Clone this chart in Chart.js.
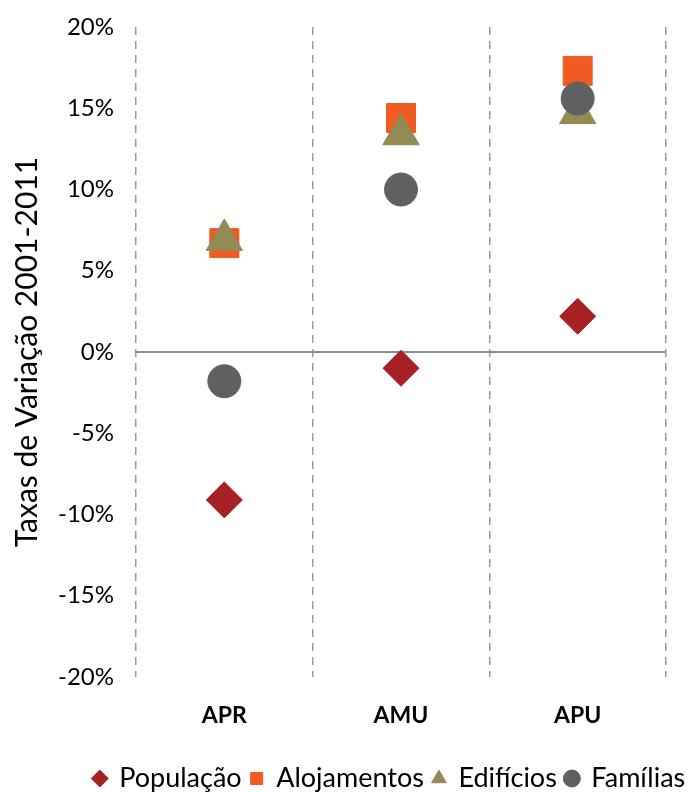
<!DOCTYPE html>
<html>
<head>
<meta charset="utf-8">
<script src="https://cdn.jsdelivr.net/npm/chart.js@4"></script>
<style>
  html, body { margin: 0; padding: 0; background: #fff; }
  #wrap { width: 688px; height: 792px; }
</style>
</head>
<body>
<div id="wrap"><canvas id="chart" width="688" height="792"></canvas></div>
<script>
// categories and series (taxas de variação 2001-2011, %)
const areas = ['APR', 'AMU', 'APU'];
const populacao = [-9.1, -1.0, 2.2];
const alojamentos = [6.7, 14.4, 17.3];
const edificios = [6.9, 13.4, 14.7];
const familias = [-1.8, 10.0, 15.6];

const font = 'Lato, "Open Sans", sans-serif';

// the legend in the original sits a bit right of centre
const legendShift = {
    id: 'legendShift',
    afterLayout(chart) {
        const lg = chart.legend;
        if (lg) { lg.left += 54; lg.right += 54; }
    },
};

const ctx = document.getElementById('chart').getContext('2d');
new Chart(ctx, {
    type: 'line',
    data: {
        labels: areas,
        datasets: [
            {
                label: 'População',
                data: populacao,
                pointStyle: 'rectRot',
                pointRadius: 18,
                backgroundColor: '#A62024',
                borderColor: '#A62024',
                order: 3,
            },
            {
                label: 'Alojamentos',
                data: alojamentos,
                pointStyle: 'rect',
                pointRadius: 20.5,
                backgroundColor: '#F15A22',
                borderColor: '#F15A22',
                order: 2,
            },
            {
                label: 'Edifícios',
                data: edificios,
                pointStyle: 'triangle',
                pointRadius: 21,
                backgroundColor: '#948A54',
                borderColor: '#948A54',
                order: 1,
            },
            {
                label: 'Famílias',
                data: familias,
                pointStyle: 'circle',
                pointRadius: 16.5,
                backgroundColor: '#5F6062',
                borderColor: '#5F6062',
                order: 0,
            },
        ],
    },
    options: {
        responsive: false,
        animation: false,
        showLine: false,
        layout: {
            padding: { top: 27, right: 17, left: 0, bottom: -10 },
        },
        plugins: {
            tooltip: { enabled: false },
            legend: {
                position: 'bottom',
                labels: {
                    usePointStyle: true,
                    boxWidth: 12,
                    boxHeight: 12,
                    padding: 9,
                    color: '#000',
                    font: { family: font, size: 27 },
                    sort: (a, b) => a.datasetIndex - b.datasetIndex,
                },
            },
        },
        scales: {
            x: {
                offset: true,
                border: { display: false, dash: [8, 6] },
                grid: {
                    offset: true,
                    drawTicks: false,
                    color: '#9a9a9a',
                    lineWidth: 1.5,
                },
                ticks: {
                    color: '#000',
                    padding: 25,
                    font: { family: font, size: 23, weight: 'bold' },
                },
                afterFit: (scale) => { scale.height = 79; },
            },
            y: {
                min: -20,
                max: 20,
                border: { display: false },
                grid: {
                    drawTicks: false,
                    lineWidth: 2,
                    color: (c) => (c.tick && c.tick.value === 0 ? '#8c8c8c' : 'rgba(0,0,0,0)'),
                },
                ticks: {
                    stepSize: 5,
                    color: '#000',
                    padding: 22,
                    font: { family: font, size: 24 },
                    callback: (v) => v + '%',
                },
                title: {
                    display: true,
                    text: 'Taxas de Variação 2001-2011',
                    color: '#000',
                    padding: { top: 9, bottom: 0 },
                    font: { family: font, size: 30 },
                },
                afterFit: (scale) => {
                    scale.width = 136;
                    scale.paddingTop = 14;
                    scale.paddingBottom = 14;
                },
            },
        },
    },
    plugins: [legendShift],
});
</script>
</body>
</html>
